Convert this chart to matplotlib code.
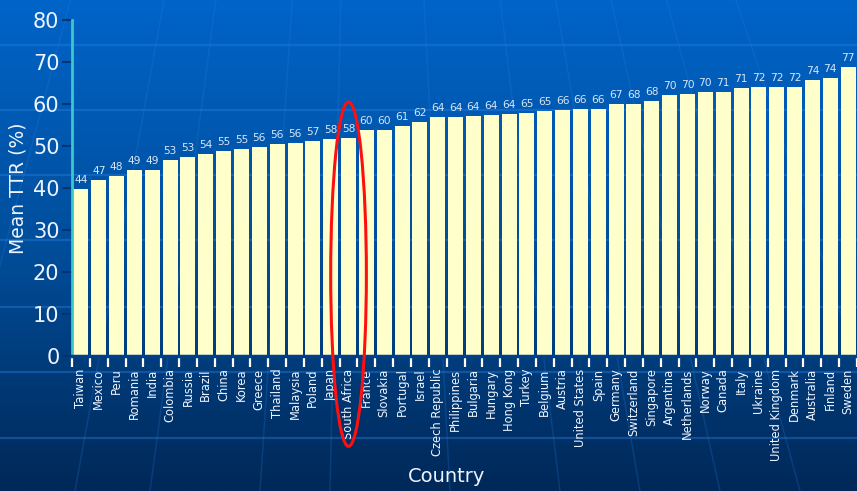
import numpy as np
import matplotlib.pyplot as plt
from matplotlib.patches import Ellipse

countries = ["Taiwan", "Mexico", "Peru", "Romania", "India", "Colombia", "Russia",
             "Brazil", "China", "Korea", "Greece", "Thailand", "Malaysia", "Poland",
             "Japan", "South Africa", "France", "Slovakia", "Portugal", "Israel",
             "Czech Republic", "Philippines", "Bulgaria", "Hungary", "Hong Kong",
             "Turkey", "Belgium", "Austria", "United States", "Spain", "Germany",
             "Switzerland", "Singapore", "Argentina", "Netherlands", "Norway",
             "Canada", "Italy", "Ukraine", "United Kingdom", "Denmark", "Australia",
             "Finland", "Sweden"]

# bar heights as drawn (they sit lower than the printed numbers)
bar_heights = [39.8, 41.9, 42.9, 44.3, 44.3, 46.7, 47.4, 48.1, 48.8, 49.3, 49.8,
               50.5, 50.7, 51.2, 51.7, 51.9, 53.8, 53.8, 54.8, 55.7, 56.9, 56.9,
               57.1, 57.4, 57.6, 57.9, 58.3, 58.6, 58.8, 58.8, 60.0, 60.0, 60.7,
               62.1, 62.4, 62.9, 62.9, 63.8, 64.0, 64.0, 64.0, 65.7, 66.2, 68.8]

# numbers printed above the bars
ttr_labels = [44, 47, 48, 49, 49, 53, 53, 54, 55, 55, 56, 56, 56, 57, 58, 58, 60, 60,
              61, 62, 64, 64, 64, 64, 64, 65, 65, 66, 66, 66, 67, 68, 68, 70, 70, 70,
              71, 71, 72, 72, 72, 74, 74, 77]

highlight = "South Africa"

W, H = 857, 491
fig = plt.figure(figsize=(W / 100, H / 100), dpi=100)

# background: vertical blue gradient with faint decorative lines
bg = fig.add_axes([0, 0, 1, 1], zorder=-10)
grad = np.linspace(0, 1, 256).reshape(-1, 1)
top = np.array([0, 100, 200]) / 255
mid = np.array([0, 78, 155]) / 255
bot = np.array([0, 40, 88]) / 255
rgb = np.where(grad[..., None] < 0.5,
               top + (mid - top) * (grad[..., None] / 0.5),
               mid + (bot - mid) * ((grad[..., None] - 0.5) / 0.5))
bg.imshow(rgb, aspect="auto", extent=[0, W, H, 0])
for yy in [45, 110, 175, 240, 307, 372, 438]:
    bg.plot([0, W], [yy, yy], color="#2a80e0", lw=1.6, alpha=0.4)
for xb in [-60, 75, 150, 260, 330, 450, 560, 640, 720, 800, 900]:
    bg.plot([xb, 365 + (xb - 365) * 0.05], [H, H - 1600 * 0.95],
            color="#2a80e0", lw=1.1, alpha=0.22)
bg.set_xlim(0, W)
bg.set_ylim(H, 0)
bg.axis("off")

ax = fig.add_axes([72 / W, (H - 356) / H, (W - 72) / W, 336 / H])
ax.set_facecolor("none")
x = np.arange(len(countries))
ax.bar(x, bar_heights, width=0.84, color="#ffffcc", edgecolor="none", zorder=2)
for xi, h, lab in zip(x, bar_heights, ttr_labels):
    ax.text(xi, h + 1.0, str(lab), ha="center", va="bottom", fontsize=7.7,
            color="#d6e6f6", zorder=3, clip_on=False)

ax.set_xlim(-0.5, 43.43)
ax.set_ylim(0, 80)
ax.set_yticks(range(0, 81, 10))
ax.tick_params(axis="y", colors="#003575", length=7, width=1.5, pad=2,
               labelsize=15, labelcolor="#eef4ff")
ax.set_xticks(x)
ax.set_xticklabels(countries, rotation=90, fontsize=8.3, color="#eef4ff")
ax.tick_params(axis="x", length=0, pad=9)
ax.set_xticks(np.arange(-0.5, len(countries), 1), minor=True)
ax.tick_params(axis="x", which="minor", length=8, width=1.6, color="white",
               direction="out")

for s in ["top", "right"]:
    ax.spines[s].set_visible(False)
ax.spines["left"].set_color("#3cc8c8")
ax.spines["left"].set_linewidth(2)
ax.spines["bottom"].set_color("#003f8c")
ax.spines["bottom"].set_linewidth(2.5)

ax.set_ylabel("Mean TTR (%)", fontsize=13.5, color="#eef4ff", labelpad=4)
fig.text(447 / W, 1 - 476 / H, "Country", ha="center", va="center",
         fontsize=14, color="#eef4ff")

# red ring around the highlighted country
hi = countries.index(highlight)
ax.add_patch(Ellipse((hi, 19.5), 2.0, 82, fill=False, edgecolor="#ff1010",
                     lw=2.2, zorder=5, clip_on=False))

fig.savefig("out.png", dpi=100)
